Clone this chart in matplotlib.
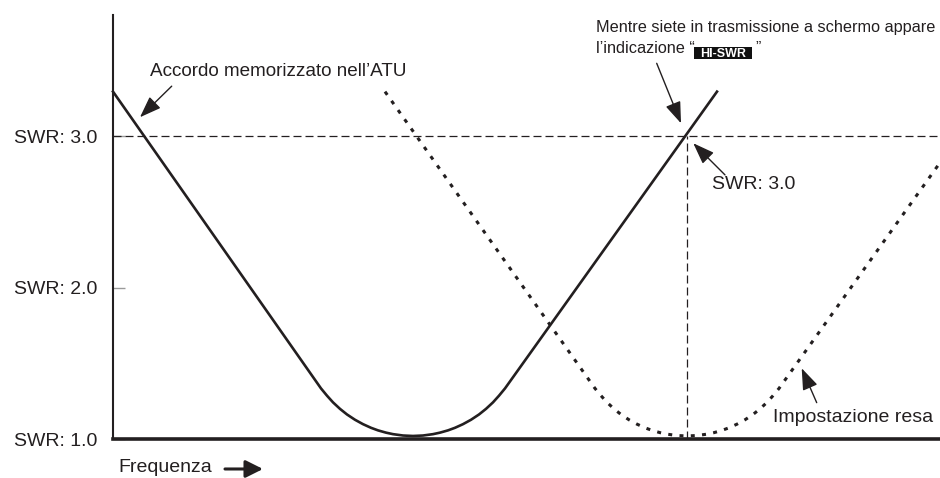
import matplotlib

matplotlib.use("Agg")
import matplotlib.pyplot as plt
from matplotlib.patches import Rectangle

plt.rcParams["font.family"] = ["Liberation Sans", "DejaVu Sans"]

INK = "#231f20"

# SWR as the frequency is swept (frequency in arbitrary units)
stored_freq = [0, 208, 214, 220, 227, 234, 242, 250, 258, 265, 273, 280, 290, 300,
               310, 320, 327, 335, 342, 350, 358, 366, 373, 380, 386, 392, 604]
stored_swr = [3.294, 1.334, 1.286, 1.242, 1.199, 1.162, 1.127, 1.098, 1.074, 1.057,
              1.042, 1.032, 1.023, 1.020, 1.023, 1.032, 1.042, 1.057, 1.074, 1.098,
              1.127, 1.162, 1.199, 1.242, 1.286, 1.334, 3.294]

tuned_freq = [272, 482, 488, 494, 501, 508, 516, 524, 532, 539, 547, 554, 564, 574,
              584, 594, 601, 609, 616, 624, 632, 640, 647, 654, 660, 666, 827]
tuned_swr = [3.294, 1.334, 1.286, 1.242, 1.199, 1.162, 1.127, 1.098, 1.074, 1.057,
             1.042, 1.032, 1.023, 1.020, 1.023, 1.032, 1.042, 1.057, 1.074, 1.098,
             1.127, 1.162, 1.199, 1.242, 1.286, 1.334, 2.825]

swr_ticks = [1.0, 2.0, 3.0]
swr_labels = ["SWR: 1.0", "SWR: 2.0", "SWR: 3.0"]
swr_limit = 3.0
hi_swr_freq = 574

fig = plt.figure(figsize=(9.4, 4.78), dpi=100)
ax = fig.add_axes([113 / 940, 39 / 478, 827 / 940, 424 / 478])
ax.set_xlim(0, 827)
ax.set_ylim(1.0, 3.80)

for side in ("top", "right"):
    ax.spines[side].set_visible(False)
ax.spines["left"].set_linewidth(1.5)
ax.spines["left"].set_color(INK)
ax.spines["bottom"].set_linewidth(2.6)
ax.spines["bottom"].set_color(INK)
ax.spines["bottom"].set_zorder(5)

ax.set_xticks([])
ax.set_yticks(swr_ticks)
ax.set_yticklabels(swr_labels)
ax.tick_params(axis="y", direction="in", length=8.5, width=1, color="#9a9a9a",
               pad=11, labelsize=14, labelcolor=INK)

# reference lines
ax.axhline(swr_limit, color=INK, lw=0.9, dashes=(6.4, 3.2))
ax.plot([hi_swr_freq, hi_swr_freq], [1.0, swr_limit], color=INK, lw=0.9, dashes=(6.4, 3.2))

# curves
ax.plot(stored_freq, stored_swr, color=INK, lw=1.9, solid_joinstyle="round", clip_on=False)
ax.plot(tuned_freq, tuned_swr, color=INK, lw=2.2, dashes=(1.3, 2.4), clip_on=False)

arrow = dict(arrowstyle="-|>,head_length=0.6,head_width=0.22", color=INK, lw=1,
             mutation_scale=22, shrinkA=0, shrinkB=0)

ax.text(37, 3.424, "Accordo memorizzato nell’ATU", fontsize=13.6, color=INK, va="center")
ax.annotate("", xy=(27, 3.125), xytext=(58.7, 3.33), arrowprops=arrow)

ax.text(483, 3.715, "Mentre siete in trasmissione a schermo appare", fontsize=11.7,
        color=INK, va="center")
ax.text(483, 3.579, "l’indicazione “", fontsize=11.7, color=INK, va="center")
ax.add_patch(Rectangle((581, 3.508), 58, 0.079, facecolor="#111111", edgecolor="none"))
ax.text(610, 3.522, "HI-SWR", fontsize=9, fontweight="bold", color="white",
        ha="center", va="baseline")
ax.text(642, 3.579, "”", fontsize=11.7, color=INK, va="center")
ax.annotate("", xy=(568, 3.085), xytext=(543.7, 3.481), arrowprops=arrow)

ax.text(599, 2.678, "SWR: 3.0", fontsize=14, color=INK, va="center")
ax.annotate("", xy=(580.3, 2.953), xytext=(612, 2.744), arrowprops=arrow)

ax.text(660, 1.143, "Impostazione resa", fontsize=14, color=INK, va="center")
ax.annotate("", xy=(688.7, 1.467), xytext=(703.7, 1.240), arrowprops=arrow)

ax.text(5, 0.815, "Frequenza", fontsize=14, color=INK, va="center", clip_on=False)
ax.annotate("", xy=(150, 0.802), xytext=(112, 0.802), annotation_clip=False,
            arrowprops=dict(arrowstyle="-|>,head_length=0.7,head_width=0.35", color=INK,
                            lw=2.2, mutation_scale=15, shrinkA=0, shrinkB=0))

fig.savefig("out.png", dpi=100)
